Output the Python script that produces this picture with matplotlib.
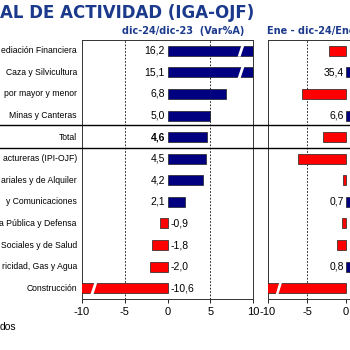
import numpy as np
import matplotlib
matplotlib.use('Agg')
import matplotlib.pyplot as plt
from matplotlib.lines import Line2D
from matplotlib.patches import Polygon

# === Data ===
sectors = ['ediación Financiera', 'Caza y Silvicultura', 'por mayor y menor',
           'Minas y Canteras', 'Total', 'actureras (IPI-OJF)',
           'ariales y de Alquiler', 'y Comunicaciones', 'a Pública y Defensa',
           'Sociales y de Salud', 'ricidad, Gas y Agua', 'Construcción']
var_dic = [16.2, 15.1, 6.8, 5.0, 4.6, 4.5, 4.2, 2.1, -0.9, -1.8, -2.0, -10.6]
var_ene_dic = [-2.2, 35.4, -5.6, 6.6, -2.9, -6.2, -0.4, 0.7, -0.5, -1.2, 0.8, -14.8]
ticks = [-10, -5, 0, 5, 10]

title = 'AL DE ACTIVIDAD (IGA-OJF)'
sub_left = 'dic-24/dic-23  (Var%A)'
sub_right = 'Ene - dic-24/Ene -'
footer = 'dos'

TITLE_BLUE = '#1c3a8c'
BAR_BLUE = '#000080'
BAR_RED = '#ff0000'
XLIM = (-10, 10)
TOTAL_IDX = sectors.index('Total')

plt.rcParams['font.family'] = ['Liberation Sans', 'DejaVu Sans']

fig = plt.figure(figsize=(3.5, 3.5), dpi=100)
W = H = 350.0


def add_ax(x0, x1, y0, y1):
    return fig.add_axes([x0 / W, 1 - y1 / H, (x1 - x0) / W, (y1 - y0) / H])


ax_l = add_ax(82, 253, 40, 299)
ax_r = add_ax(268, 424, 40, 299)


def fmt(v):
    return f'{v:.1f}'.replace('.', ',')


def draw_panel(ax, values, show_neg_labels=True):
    y = np.arange(len(values))
    colors = [BAR_BLUE if v >= 0 else BAR_RED for v in values]
    ax.barh(y, values, height=0.46, color=colors, edgecolor='#202020',
            linewidth=0.5, zorder=3)
    ax.set_xlim(*XLIM)
    ax.set_ylim(len(values) - 0.5, -0.5)
    ax.set_yticks([])
    ax.set_xticks(ticks)
    ax.set_xticklabels([str(t) for t in ticks], fontsize=8)
    ax.tick_params(axis='x', length=3, width=0.6, pad=3)
    for xv in (-5, 5):
        ax.axvline(xv, color='black', linestyle=(0, (2, 2)), linewidth=0.6,
                   zorder=1)
    for s in ax.spines.values():
        s.set_linewidth(0.7)
        s.set_color('#333333')
    # break marks for bars running past the axis
    for i, v in enumerate(values):
        if v > XLIM[1] or v < XLIM[0]:
            side = 1 if v > 0 else -1
            xb = side * (XLIM[1] - 1.4)
            poly = Polygon([(xb - 0.4, i + 0.27), (xb - 0.05, i + 0.27),
                            (xb + 0.4, i - 0.27), (xb + 0.05, i - 0.27)],
                           closed=True, facecolor='white', edgecolor='none',
                           zorder=4)
            ax.add_patch(poly)
        weight = 'bold' if i == TOTAL_IDX else 'normal'
        if v >= 0:
            ax.text(-0.3, i, fmt(v), ha='right', va='center', fontsize=7.5,
                    fontweight=weight, zorder=5)
        elif show_neg_labels:
            ax.text(0.4, i, fmt(v), ha='left', va='center', fontsize=7.5,
                    fontweight=weight, zorder=5)


draw_panel(ax_l, var_dic)
# right panel: labels of negative bars fall beyond the visible edge
draw_panel(ax_r, var_ene_dic, show_neg_labels=False)

# category labels
for i, name in enumerate(sectors):
    ax_l.text(-0.03, i, name, transform=ax_l.get_yaxis_transform(),
              ha='right', va='center', fontsize=6.2)

# separator lines around Total
for yy in (125, 147.5):
    fig.add_artist(Line2D([0, 1], [1 - yy / H, 1 - yy / H], color='black',
                          linewidth=1.0, transform=fig.transFigure))

fig.text(0.0, 1 - 13 / H, title, fontsize=12, fontweight='bold',
         color=TITLE_BLUE, family='DejaVu Sans', ha='left', va='center')
fig.text(122 / W, 1 - 31 / H, sub_left, fontsize=7, fontweight='bold',
         color=TITLE_BLUE, family='DejaVu Sans', ha='left', va='center')
fig.text(267 / W, 1 - 31 / H, sub_right, fontsize=7, fontweight='bold',
         color=TITLE_BLUE, family='DejaVu Sans', ha='left', va='center')
fig.text(0.0, 1 - 327 / H, footer, fontsize=7.5, ha='left', va='center')

fig.savefig('out.png', dpi=100)
